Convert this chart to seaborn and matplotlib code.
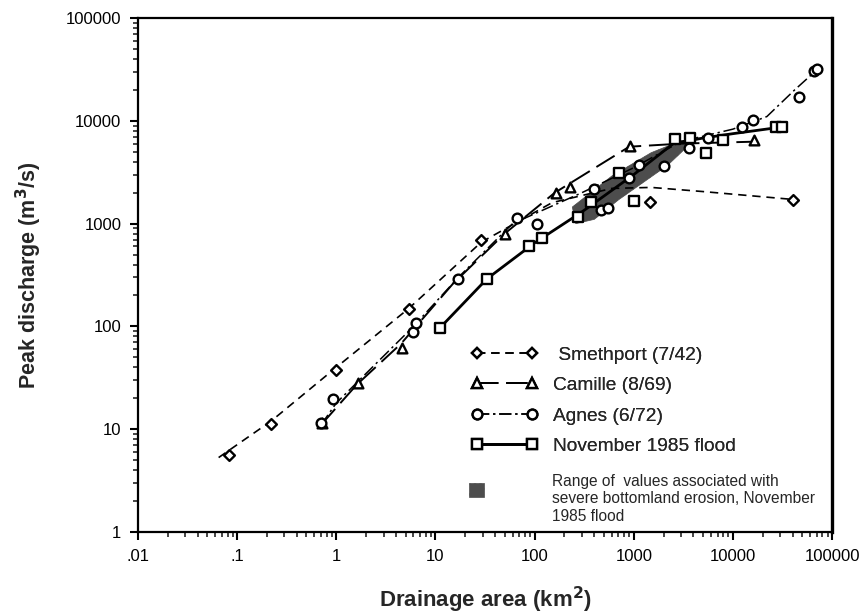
import matplotlib
matplotlib.use("Agg")
import matplotlib.pyplot as plt
import seaborn as sns
from matplotlib.lines import Line2D
from matplotlib.patches import Polygon, Rectangle
from matplotlib.ticker import FixedLocator, FixedFormatter, LogLocator, NullFormatter

# ---- flood data: drainage area (km2) and peak discharge (m3/s) ----
smethport_area = [0.083, 0.22, 1.0, 5.4, 29, 1450, 40000]
smethport_q = [5.6, 11.2, 38, 148, 690, 1620, 1700]
smethport_curve_area = [0.065, 0.22, 1.0, 5.4, 29, 150, 600, 1500, 5000, 40000]
smethport_curve_q = [5.3, 12.0, 40, 150, 660, 1600, 2200, 2250, 2050, 1720]

camille_area = [0.72, 1.64, 4.56, 50, 164, 228, 915, 16500]
camille_q = [11.5, 28, 62, 795, 2000, 2260, 5700, 6500]
camille_curve_area = [0.7, 1.6, 4.5, 15, 50, 160, 900, 3000, 20000]
camille_curve_q = [11, 27, 68, 260, 800, 2000, 5600, 6000, 6300]

agnes_area = [0.7, 0.93, 6.0, 6.3, 17, 66, 105, 400, 470, 550, 900, 1140, 2040,
              3600, 5600, 12300, 16000, 46000, 65000, 70000]
agnes_q = [11.5, 19.7, 88, 108, 290, 1130, 1000, 2170, 1350, 1420, 2770, 3710, 3650,
           5400, 6800, 8700, 10200, 17000, 30500, 32000]
agnes_curve_area = [0.7, 1.0, 6.0, 17, 60, 300, 1000, 3000, 10000, 22000, 42000, 72000]
agnes_curve_q = [11, 18, 100, 300, 1000, 2000, 3500, 6300, 8300, 11000, 20000, 32000]

nov85_area = [11, 33, 88, 118, 275, 372, 713, 1000, 2600, 3700, 5400, 8000, 27000, 31000]
nov85_q = [96, 290, 610, 720, 1150, 1620, 3100, 1660, 6600, 6800, 4900, 6500, 8700, 8700]
nov85_curve_area = [11, 33, 100, 300, 1000, 2500, 5000, 10000, 31000]
nov85_curve_q = [96, 290, 650, 1300, 3000, 6000, 6800, 7500, 8700]

# erosion band outline (area, discharge)
band_area = [260, 240, 600, 1500, 3000, 3600, 2200, 700, 400]
band_q = [1000, 1450, 2900, 4900, 6400, 5800, 3700, 1700, 1100]

x_tick_values = [0.01, 0.1, 1, 10, 100, 1000, 10000, 100000]
x_tick_labels = [".01", ".1", "1", "10", "100", "1000", "10000", "100000"]
y_tick_values = [1, 10, 100, 1000, 10000, 100000]
y_tick_labels = ["1", "10", "100", "1000", "10000", "100000"]

legend_labels = [" Smethport (7/42)", "Camille (8/69)", "Agnes (6/72)", "November 1985 flood"]
band_label = "Range of  values associated with\nsevere bottomland erosion, November\n1985 flood"

sns.set_theme(style="ticks")
plt.rcParams['font.family'] = ['Liberation Sans', 'DejaVu Sans']
plt.rcParams['axes.linewidth'] = 1.6
plt.rcParams['hatch.color'] = '0.8'
plt.rcParams['hatch.linewidth'] = 1.0

fig = plt.figure(figsize=(8.6, 6.13), dpi=100)
ax = fig.add_axes([0.1605, 0.1321, 0.807, 0.8385])
ax.set_xscale("log")
ax.set_yscale("log")

# erosion band
ax.add_patch(Polygon(list(zip(band_area, band_q)), closed=True,
                     facecolor="0.3", edgecolor="0.3", hatch="...", lw=0.5, zorder=2))

series = [
    (smethport_curve_area, smethport_curve_q, smethport_area, smethport_q, (0, (5, 3.5)), "D", 1.2, 5.5),
    (camille_curve_area, camille_curve_q, camille_area, camille_q, (0, (11, 4)), "^", 1.4, 7),
    (agnes_curve_area, agnes_curve_q, agnes_area, agnes_q, (0, (8, 2.5, 1.5, 2.5)), "o", 1.1, 7),
    (nov85_curve_area, nov85_curve_q, nov85_area, nov85_q, "-", "s", 2.0, 6.5),
]

handles = []
for cx, cy, px, py, ls, mk, lw, ms in series:
    sns.lineplot(x=cx, y=cy, ax=ax, color="black", lw=lw, linestyle=ls,
                 sort=False, estimator=None, zorder=3)
    sns.scatterplot(x=px, y=py, ax=ax, marker=mk, s=ms ** 2, color="white",
                    edgecolor="black", linewidth=1.7, zorder=4)
    handles.append(Line2D([0], [0], color="black", lw=lw, linestyle=ls, marker=mk,
                          markersize=ms, markerfacecolor="white",
                          markeredgecolor="black", markeredgewidth=1.7))

ax.set_xlim(0.01, 100000)
ax.set_ylim(1, 100000)

ax.xaxis.set_major_locator(FixedLocator(x_tick_values))
ax.xaxis.set_major_formatter(FixedFormatter(x_tick_labels))
ax.yaxis.set_major_locator(FixedLocator(y_tick_values))
ax.yaxis.set_major_formatter(FixedFormatter(y_tick_labels))
ax.xaxis.set_minor_locator(LogLocator(base=10, subs=range(2, 10), numticks=20))
ax.yaxis.set_minor_locator(LogLocator(base=10, subs=range(2, 10), numticks=20))
ax.xaxis.set_minor_formatter(NullFormatter())
ax.yaxis.set_minor_formatter(NullFormatter())
ax.tick_params(which="major", direction="out", length=6, width=1.5, labelsize=12,
               colors="black", pad=6)
ax.tick_params(which="minor", direction="out", length=3.5, width=1.2)
for side in ["top", "right", "left", "bottom"]:
    ax.spines[side].set_visible(True)
    ax.spines[side].set_color("black")
ax.spines["right"].set_linewidth(2.4)

ax.set_xlabel("Drainage area (km$^\\mathbf{2}$)", fontsize=16, fontweight="bold", labelpad=15)
ax.set_ylabel("Peak discharge (m$^\\mathbf{3}$/s)", fontsize=15.5, fontweight="bold", labelpad=16)

leg = ax.legend(handles, legend_labels, loc="upper left", bbox_to_anchor=(0.455, 0.395),
                frameon=False, fontsize=13.8, numpoints=2, handlelength=3.5,
                handletextpad=0.8, labelspacing=0.68)
ax.add_artist(leg)

# erosion band key
ax.add_patch(Rectangle((0.477, 0.068), 0.021, 0.028, transform=ax.transAxes,
                       facecolor="0.3", edgecolor="0.3", hatch="...", lw=0.5))
ax.text(0.596, 0.113, band_label, transform=ax.transAxes, fontsize=11.2,
        va="top", ha="left", linespacing=1.2)

fig.savefig("out.png", dpi=100)
